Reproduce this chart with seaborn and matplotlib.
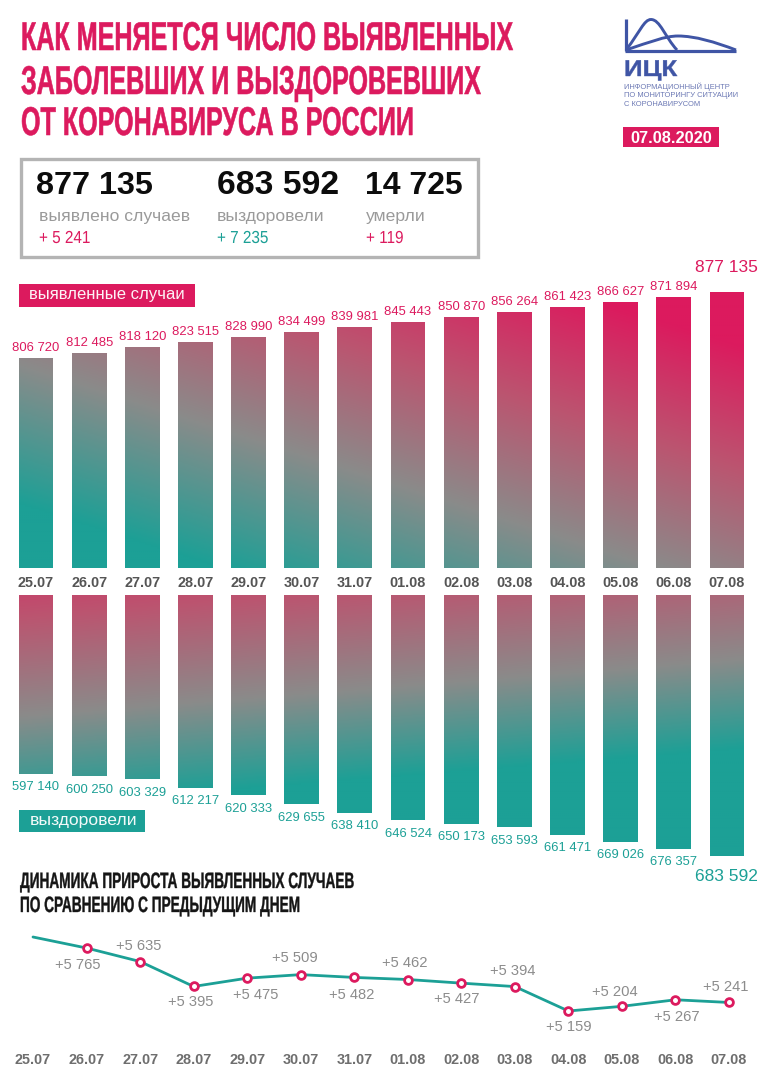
import numpy as np
import matplotlib
matplotlib.use("Agg")
import matplotlib.pyplot as plt
import seaborn as sns
from matplotlib.colors import LinearSegmentedColormap
from matplotlib.path import Path
from matplotlib.patches import PathPatch, Rectangle
from matplotlib.patheffects import AbstractPathEffect
from matplotlib.transforms import Affine2D

days = ["25.07", "26.07", "27.07", "28.07", "29.07", "30.07", "31.07",
        "01.08", "02.08", "03.08", "04.08", "05.08", "06.08", "07.08"]
cases = [806720, 812485, 818120, 823515, 828990, 834499, 839981,
         845443, 850870, 856264, 861423, 866627, 871894, 877135]
recovered = [597140, 600250, 603329, 612217, 620333, 629655, 638410,
             646524, 650173, 653593, 661471, 669026, 676357, 683592]
growth = [5871, 5765, 5635, 5395, 5475, 5509, 5482,
          5462, 5427, 5394, 5159, 5204, 5267, 5241]

title_lines = ["КАК МЕНЯЕТСЯ ЧИСЛО ВЫЯВЛЕННЫХ", "ЗАБОЛЕВШИХ И ВЫЗДОРОВЕВШИХ",
               "ОТ КОРОНАВИРУСА В РОССИИ"]
sub_lines = ["ДИНАМИКА ПРИРОСТА ВЫЯВЛЕННЫХ СЛУЧАЕВ", "ПО СРАВНЕНИЮ С ПРЕДЫДУЩИМ ДНЕМ"]
org_lines = ["ИНФОРМАЦИОННЫЙ ЦЕНТР", "ПО МОНИТОРИНГУ СИТУАЦИИ", "С КОРОНАВИРУСОМ"]
totals = ["877 135", "683 592", "14 725"]
total_names = ["выявлено случаев", "выздоровели", "умерли"]
total_deltas = ["+ 5 241", "+ 7 235", "+ 119"]
report_date = "07.08.2020"

CRIMSON = "#dc1a5e"
TEAL = "#1ca096"
GREY_MID = "#8a8b8a"
ROSE = "#bb5570"
BLUE = "#3f55a5"

sns.set_theme(style="white")
plt.rcParams["font.family"] = ["Liberation Sans", "DejaVu Sans"]

W, H = 766, 1080
fig = plt.figure(figsize=(W / 100, H / 100), dpi=100, facecolor="white")


class Stretch(AbstractPathEffect):
    # no condensed font is installed, so the glyphs are made taller while drawn
    def __init__(self, sy, stroke=0):
        super().__init__()
        self.sy = sy
        self.stroke = stroke

    def draw_path(self, renderer, gc, tpath, affine, rgbFace=None):
        gc2 = renderer.new_gc()
        gc2.copy_properties(gc)
        gc2.set_linewidth(self.stroke)
        renderer.draw_path(gc2, tpath, Affine2D().scale(1, self.sy) + affine, rgbFace)
        gc2.restore()


def stretched(ax, x, y, s, sy, stroke=0, **kw):
    t = ax.text(x, y, s, va="baseline", **kw)
    t.set_path_effects([Stretch(sy, stroke)])
    return t


def px_axes(top, bottom):
    return fig.add_axes([0, 1 - bottom / H, 1, (bottom - top) / H], facecolor="none")


def fmt(v):
    return f"{v:,}".replace(",", " ")


def grad_fill(ax, top, bottom, iso_left, iso_right, low, high):
    # diagonal gradient shared by all bars of the panel, clipped to the bars
    xx, yy = np.meshgrid(np.arange(0, W, 2), np.arange(top, bottom, 2))
    iso = iso_left + (iso_right - iso_left) * (xx - 36) / 691
    s = iso - yy
    t = np.where(s < 0, 0.5 + 0.5 * s / low, 0.5 + 0.5 * s / high)
    cmap = LinearSegmentedColormap.from_list("g", [TEAL, GREY_MID, ROSE, CRIMSON])
    x0, x1 = ax.get_xlim()
    y0, y1 = ax.get_ylim()
    # four stops are evenly spaced, so remap grey to the middle of the range
    t = np.interp(t, [0, 0.5, 1], [0, 1 / 3, 1])
    img = ax.imshow(cmap(np.clip(t, 0, 1)), extent=(x0, x1, y0, y1), origin="upper",
                    aspect="auto", zorder=3, interpolation="bilinear")
    bars = ax.containers[0]
    clip = Path.make_compound_path(*[b.get_path().transformed(b.get_patch_transform()) for b in bars])
    img.set_clip_path(clip, transform=ax.transData)
    ax.set_xlim(x0, x1)
    ax.set_ylim(y0, y1)


STEP = 53.15
XLIM = (-36 / STEP, (W - 36) / STEP)

# detected cases, truncated axis
top_px, base_px = 255, 568
k1 = 66 / (cases[-1] - cases[0])
ax1 = px_axes(top_px, base_px)
sns.barplot(x=days, y=cases, ax=ax1, color=TEAL, width=0.655, saturation=1)
ax1.set_xlim(*XLIM)
ax1.set_ylim(cases[0] - 210 / k1, cases[0] + (358 - top_px) / k1)
grad_fill(ax1, top_px, base_px, 370, 590, 140, 250)
labels1 = ax1.bar_label(ax1.containers[0], labels=[fmt(v) for v in cases], padding=2.8,
                        color=CRIMSON, fontsize=9.4, zorder=5)
labels1[-1].set_fontsize(12.5)
labels1[-1].xyann = (-0.5, 12)
ax1.set_yticks([])
ax1.tick_params(axis="x", length=0, pad=5.5, labelsize=10.4, labelcolor="#555555")
for t in ax1.get_xticklabels():
    t.set_fontweight("bold")
ax1.set(xlabel=None, ylabel=None)
sns.despine(ax=ax1, left=True, bottom=True)

# recovered, hanging from the top
rec_top, rec_bot = 595, 890
k2 = 82 / (recovered[-1] - recovered[0])
ax2 = px_axes(rec_top, rec_bot)
sns.barplot(x=days, y=recovered, ax=ax2, color=TEAL, width=0.655, saturation=1)
ax2.set_xlim(*XLIM)
ax2.set_ylim(recovered[0] + (rec_bot - 773.5) / k2, recovered[0] - 178.5 / k2)
grad_fill(ax2, rec_top, rec_bot, 715, 660, 90, 200)
labels2 = ax2.bar_label(ax2.containers[0], labels=[fmt(v) for v in recovered], padding=5.5,
                        color=TEAL, fontsize=9.4, zorder=5)
labels2[-1].set_fontsize(12.5)
labels2[-1].xyann = (-0.5, -10)
ax2.set_xticks([])
ax2.set_yticks([])
ax2.set(xlabel=None, ylabel=None)
sns.despine(ax=ax2, left=True, bottom=True)

# daily growth line
line_top, line_bot = 925, 1045
k3 = 74 / (growth[0] - growth[10])
ax3 = px_axes(line_top, line_bot)
sns.lineplot(x=days, y=growth, ax=ax3, color=TEAL, lw=2, sort=False, errorbar=None,
             marker="o", markevery=list(range(1, 14)), ms=5.6, mfc="white", mec=CRIMSON, mew=2)
ax3.set_xlim(-33 / 53.54, (W - 33) / 53.54)
ax3.set_ylim(growth[10] - (line_bot - 1011) / k3, growth[10] + (1011 - line_top) / k3)
ax3.set_yticks([])
ax3.tick_params(axis="x", length=0, pad=6, labelsize=10.4, labelcolor="#6e6e6e")
for t in ax3.get_xticklabels():
    t.set_fontweight("bold")
ax3.set(xlabel=None, ylabel=None)
sns.despine(ax=ax3, left=True, bottom=True)

# +N labels alternate around the line
label_dy = [0, 17, -16, 16, 17, -17, 18, -17, 16, -16, 16, -14, 17, -15]
label_dx = [0, -9, -1, -3, 9, -6, -3, -3, -5, -2, 0, -7, 1, -3]
for i in range(1, 14):
    ax3.annotate(f"+{fmt(growth[i])}", (i, growth[i]), xytext=(label_dx[i] * 0.72, -label_dy[i] * 0.72),
                 textcoords="offset points", ha="center", va="center",
                 fontsize=10.6, color="#8c8c8c")

# overlay in pixel coordinates for header, legend tags and logo
ov = fig.add_axes([0, 0, 1, 1], facecolor="none")
ov.set_xlim(0, W)
ov.set_ylim(H, 0)
ov.axis("off")

for line, y in zip(title_lines, [50, 94, 135]):
    stretched(ov, 21, y, line, 1.6, 0.4, color=CRIMSON, fontsize=18.07, fontweight="bold")
for line, y in zip(sub_lines, [888, 912]):
    stretched(ov, 20, y, line, 1.63, 0.25, color="#151515", fontsize=9.82, fontweight="bold")

ov.add_patch(Rectangle((20.5, 158.5), 457, 98, fc="white", ec="#b4b4b4", lw=2.4))
for txt, x, size in zip(totals, [36, 217, 365], [23.3, 24.3, 23]):
    ov.text(x, 186, txt, color="#0c0c0c", fontsize=size, fontweight="bold", va="center")
for txt, x in zip(total_names, [39, 217, 366]):
    ov.text(x, 216, txt, color="#9a9a9a", fontsize=12.6, va="center")
for txt, x, c in zip(total_deltas, [39, 217, 366], [CRIMSON, TEAL, CRIMSON]):
    stretched(ov, x, 243, txt, 1.14, color=c, fontsize=11)

ov.add_patch(Rectangle((19, 284), 176, 23, fc=CRIMSON, ec="none"))
ov.text(29, 295, "выявленные случаи", color="white", fontsize=12, va="center", alpha=0.95)
ov.add_patch(Rectangle((19, 810), 126, 22, fc=TEAL, ec="none"))
ov.text(30, 821, "выздоровели", color="white", fontsize=12.6, va="center", alpha=0.95)

# date tag
ov.add_patch(Rectangle((623, 127), 96, 20, fc=CRIMSON, ec="none"))
ov.text(671, 137, report_date, color="white", fontsize=11.8, fontweight="bold", ha="center", va="center_baseline")

# logo
ov.plot([625.5, 625.5], [19, 50.5], color=BLUE, lw=2.3, solid_capstyle="butt")
ov.plot([624.5, 736], [50.5, 50.5], color=BLUE, lw=2.3, solid_capstyle="butt")
curve1 = Path([(626, 50), (640, 32), (644, 19.5), (651, 19.5), (660, 19.5), (665, 37), (677, 50)],
              [Path.MOVETO] + [Path.CURVE4] * 6)
curve2 = Path([(626, 50), (650, 42), (665, 36), (678, 36), (695, 36), (715, 42), (736, 50)],
              [Path.MOVETO] + [Path.CURVE4] * 6)
for c in (curve1, curve2):
    ov.add_patch(PathPatch(c, fc="none", ec=BLUE, lw=2.1))
stretched(ov, 624, 76, "ИЦК", 0.885, 0.3, color=BLUE, fontsize=18.6, fontweight="bold")
for line, y in zip(org_lines, [87, 95.5, 104]):
    ov.text(624, y, line, color="#6b78b4", fontsize=5.4, va="center")

fig.savefig("out.png", dpi=100, facecolor="white")
